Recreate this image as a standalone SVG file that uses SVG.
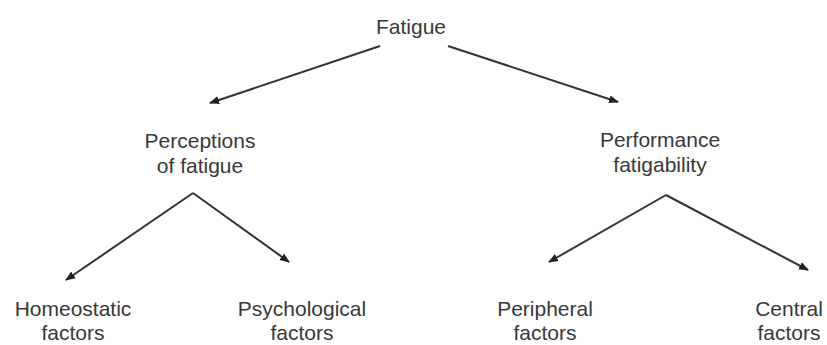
<svg xmlns="http://www.w3.org/2000/svg" width="827" height="345" viewBox="0 0 827 345">
<defs>
<style>
text{font-family:"Liberation Sans",Arial,sans-serif;font-size:21px;fill:#383838;text-anchor:middle}
.c line{stroke:#333;stroke-width:2;marker-end:url(#ah)}
</style>
<marker id="ah" viewBox="0 0 10 10" refX="9" refY="5" markerWidth="5" markerHeight="5" orient="auto" markerUnits="strokeWidth">
<path d="M0,1 L10,5 L0,9 z" fill="#222"/>
</marker>
</defs>
<rect width="827" height="345" fill="#fff"/>
<g class="c" id="connectors">
<line x1="380" y1="46" x2="210" y2="103"/>
<line x1="448" y1="46" x2="618" y2="102"/>
<line x1="193" y1="193" x2="66" y2="280"/>
<line x1="193" y1="193" x2="289" y2="262"/>
<line x1="666" y1="195" x2="549" y2="262"/>
<line x1="666" y1="195" x2="808" y2="270"/>
</g>
<g id="fatigue"><text x="411" y="34">Fatigue</text></g>
<g id="perceptions"><text x="200" y="148">Perceptions</text><text x="200" y="173">of fatigue</text></g>
<g id="performance"><text x="660" y="147">Performance</text><text x="660" y="172">fatigability</text></g>
<g id="homeostatic"><text x="73" y="316">Homeostatic</text><text x="73" y="340">factors</text></g>
<g id="psychological"><text x="302" y="316">Psychological</text><text x="302" y="340">factors</text></g>
<g id="peripheral"><text x="545" y="316">Peripheral</text><text x="545" y="340">factors</text></g>
<g id="central"><text x="789" y="316">Central</text><text x="789" y="340">factors</text></g>
</svg>
